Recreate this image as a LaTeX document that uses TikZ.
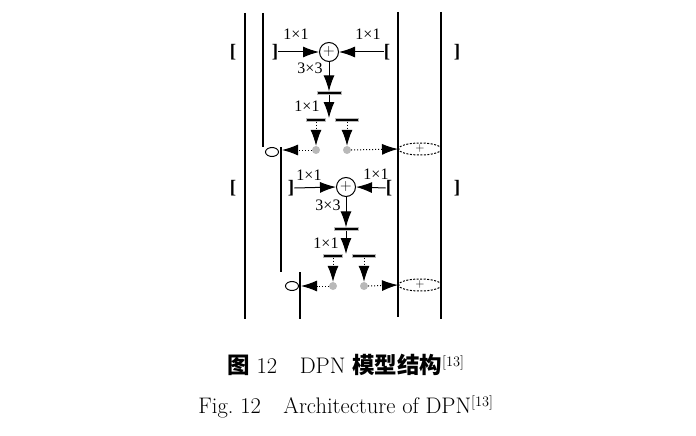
\documentclass[tikz,border=0pt]{standalone}
\usepackage{fontspec}
\newfontfamily\timesfont{Liberation Serif}
\newfontfamily\cjk{Noto Sans CJK SC}
\usetikzlibrary{arrows.meta,shapes}

\begin{document}
\begin{tikzpicture}[x=1pt,y=-1pt,
    lbl/.style={font=\timesfont\fontsize{16}{16}\selectfont, inner sep=0pt},
    brk/.style={font=\timesfont\bfseries\fontsize{19}{19}\selectfont, inner sep=0pt},
    sum/.style={circle, draw, line width=1pt, minimum size=19pt, inner sep=0pt,
      font=\fontsize{16}{16}\selectfont},
    bar/.style={rectangle, fill=black, draw=gray!55, line width=0.8pt,
      minimum height=2.5pt, inner sep=0pt},
    dot/.style={circle, fill=gray!55, minimum size=8pt, inner sep=0pt},
    arr/.style={-{Latex[length=16pt,width=11pt]}, line width=1pt},
    darr/.style={arr, dash pattern=on 1pt off 2pt},
    mergenode/.style={ellipse, draw, dash pattern=on 2pt off 1.5pt, line width=1pt,
      minimum width=43pt, minimum height=12pt, inner sep=0pt,
      font=\fontsize{12}{12}\selectfont},
    splitnode/.style={ellipse, draw, line width=1pt, minimum width=13pt,
      minimum height=9pt, inner sep=0pt},
    rail/.style={line width=1.2pt}]

  \useasboundingbox (0,0) rectangle (696,436);

      % rails
  \draw[rail] (245,13) -- (245,319);
  \draw[rail] (263,13) -- (263,147);
  \draw[rail] (281,147) -- (281,272);
  \draw[rail] (300,272) -- (300,319);
  \draw[rail] (398,12) -- (398,317);
  \draw[rail] (441,12) -- (441,319);

      % first block
  \node[brk] (outL1) at (233,52) {[};
  \node[brk] (inR1) at (275,52) {]};
  \node[sum] (plus1) at (329,52) {+};
  \node[brk] (inL1) at (387,52) {[};
  \node[brk] (outR1) at (457,52) {]};
  \node[lbl] (convA1) at (296,34) {1×1};
  \node[lbl] (convB1) at (368,34) {1×1};
  \node[lbl] (convC1) at (310,68) {3×3};
  \draw[arr] (inR1.east) -- (plus1.west);
  \draw[arr] (inL1.west) -- (plus1.east);

  \node[bar, minimum width=24pt] (bar1) at (329,93) {};
  \coordinate (tip1) at (329,118);
  \node[lbl] (convD1) at (307,106) {1×1};
  \draw[arr] (plus1.south) -- (bar1.north);
  \draw[arr] (bar1.south) -- (tip1);

  \node[bar, minimum width=19pt] (barL1) at (316,120) {};
  \node[bar, minimum width=23pt] (barR1) at (347,120) {};
  \node[dot] (dotL1) at (316,150) {};
  \node[dot] (dotR1) at (347,150) {};
  \draw[darr] (barL1.south) -- (dotL1.north);
  \draw[darr] (barR1.south) -- (dotR1.north);

  \node[splitnode] (ellL1) at (272,152) {};
  \coordinate (hitL1) at (282,150);
  \node[mergenode] (mergeR1) at (420,149) {+};
  \draw[darr] (dotL1.west) -- (hitL1);
  \draw[darr] (dotR1.east) -- (mergeR1.west);

      % second block
  \node[brk] (outL2) at (233,188) {[};
  \node[brk] (inR2) at (291,188) {]};
  \node[sum] (plus2) at (346,187) {+};
  \node[brk] (inL2) at (389,188) {[};
  \node[brk] (outR2) at (457,188) {]};
  \node[lbl] (convA2) at (309,175) {1×1};
  \node[lbl] (convB2) at (376,174) {1×1};
  \node[lbl] (convC2) at (328,205) {3×3};
  \draw[arr] (inR2.east) -- (plus2.west);
  \draw[arr] (inL2.west) -- (plus2.east);

  \node[bar, minimum width=24pt] (bar2) at (346,229) {};
  \coordinate (tip2) at (346,254);
  \node[lbl] (convD2) at (326,243) {1×1};
  \draw[arr] (plus2.south) -- (bar2.north);
  \draw[arr] (bar2.south) -- (tip2);

  \node[bar, minimum width=19pt] (barL2) at (333,256) {};
  \node[bar, minimum width=23pt] (barR2) at (364,256) {};
  \node[dot] (dotL2) at (333,286) {};
  \node[dot] (dotR2) at (364,286) {};
  \draw[darr] (barL2.south) -- (dotL2.north);
  \draw[darr] (barR2.south) -- (dotR2.north);

  \node[splitnode] (ellL2) at (292,286) {};
  \coordinate (hitL2) at (301,286);
  \node[mergenode] (mergeR2) at (420,285) {+};
  \draw[darr] (dotL2.west) -- (hitL2);
  \draw[darr] (dotR2.east) -- (mergeR2.west);

      % caption
  \node[font=\fontsize{22.5}{22.5}\selectfont] (capCN) at (346,365)
    {{\cjk\bfseries 图}\ 12\quad DPN {\cjk\bfseries 模型结构}$^{[13]}$};
  \node[font=\fontsize{22.5}{22.5}\selectfont] (capEN) at (346,407)
    {Fig.\ 12\quad Architecture of DPN$^{[13]}$};

\end{tikzpicture}
\end{document}
